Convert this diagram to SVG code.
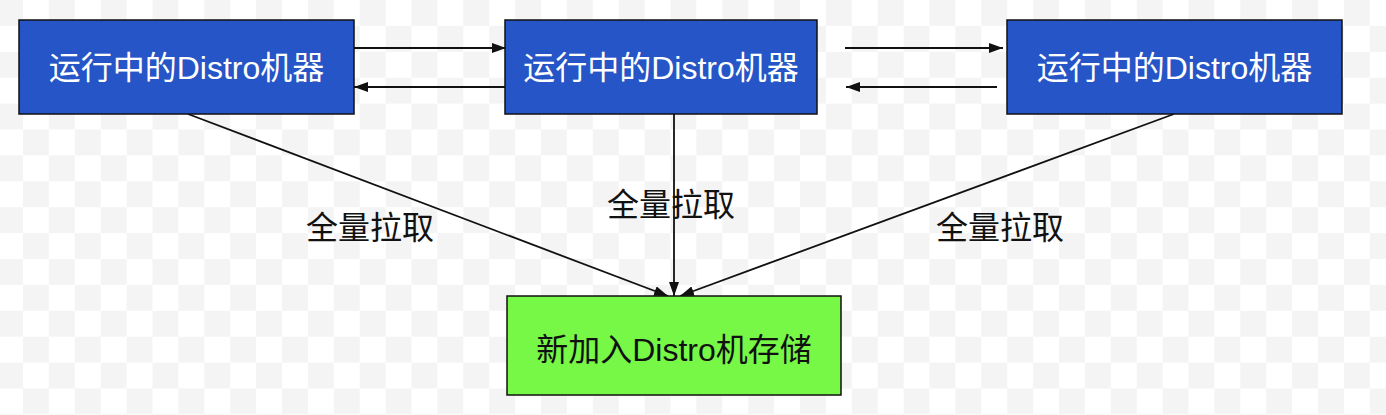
<svg xmlns="http://www.w3.org/2000/svg" width="1386" height="415" viewBox="0 0 1386 415">
  <style>
    .box { stroke: #111; stroke-width: 1.5; }
    .run { fill: #2555C6; }
    .new { fill: #77F746; }
    .t { font-family: "Liberation Sans", "Noto Sans CJK SC", sans-serif; font-size: 32px; text-anchor: middle; }
    .tw { fill: #ffffff; }
    .tb { fill: #111111; }
    .edge { stroke: #111; stroke-width: 1.8; fill: none; marker-end: url(#ah); }
  </style>
  <defs>
    <pattern id="checker" patternUnits="userSpaceOnUse" x="-2.9" y="0" width="51.8" height="51.8">
      <rect x="0" y="0" width="51.8" height="51.8" fill="#ffffff"/>
      <rect x="0" y="0" width="25.9" height="25.9" fill="#f4f4f4"/>
      <rect x="25.9" y="25.9" width="25.9" height="25.9" fill="#f4f4f4"/>
    </pattern>
    <marker id="ah" viewBox="0 0 14 10" refX="14" refY="5" markerWidth="14" markerHeight="10" markerUnits="userSpaceOnUse" orient="auto">
      <path d="M0,0 L14,5 L0,10 Z" fill="#111"/>
    </marker>
  </defs>
  <rect x="0" y="0" width="1386" height="415" fill="url(#checker)"/>

  <g id="connectors">
    <line class="edge" x1="354" y1="48" x2="506" y2="48"/>
    <line class="edge" x1="505" y1="87" x2="354" y2="87"/>
    <line class="edge" x1="845" y1="48" x2="1003" y2="48"/>
    <line class="edge" x1="997" y1="87" x2="846" y2="87"/>
    <line class="edge" x1="188" y1="114" x2="668" y2="296"/>
    <line class="edge" x1="674" y1="114" x2="674" y2="296"/>
    <line class="edge" x1="1174" y1="114" x2="680" y2="296"/>
    <text class="t tb" x="370" y="239">全量拉取</text>
    <text class="t tb" x="671" y="216">全量拉取</text>
    <text class="t tb" x="1000" y="239">全量拉取</text>
  </g>

  <g id="node-run-1">
    <rect class="box run" x="19" y="20" width="335" height="94"/>
    <text class="t tw" x="186.5" y="79">运行中的Distro机器</text>
  </g>
  <g id="node-run-2">
    <rect class="box run" x="505" y="20" width="312" height="94"/>
    <text class="t tw" x="661" y="79">运行中的Distro机器</text>
  </g>
  <g id="node-run-3">
    <rect class="box run" x="1007" y="20" width="335" height="94"/>
    <text class="t tw" x="1174.5" y="79">运行中的Distro机器</text>
  </g>
  <g id="node-new">
    <rect class="box new" x="507" y="296" width="334" height="99"/>
    <text class="t tb" x="674" y="361">新加入Distro机存储</text>
  </g>
</svg>
